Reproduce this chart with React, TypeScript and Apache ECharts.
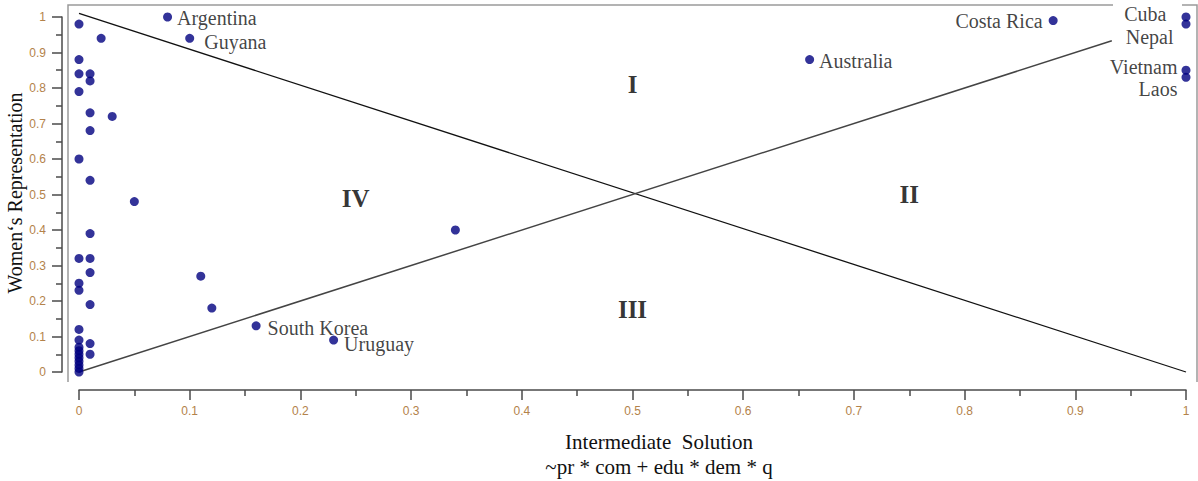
import React, { useEffect, useRef } from "react";
import * as echarts from "echarts";

// Unlabelled cases
const plainX = [
  0, 0, 0, 0, 0, 0, 0, 0, 0, 0, 0, 0, 0, 0, 0, 0, 0, 0,
  0.01, 0.01, 0.01, 0.01, 0.01, 0.01, 0.01, 0.01, 0.01, 0.01, 0.01,
  0.02, 0.03, 0.05, 0.11, 0.12, 0.34,
];
const plainY = [
  0.98, 0.88, 0.84, 0.79, 0.6, 0.32, 0.25, 0.23, 0.12, 0.09, 0.07, 0.06, 0.05, 0.04, 0.03, 0.02, 0.01, 0,
  0.84, 0.82, 0.73, 0.68, 0.54, 0.39, 0.32, 0.28, 0.19, 0.08, 0.05,
  0.94, 0.72, 0.48, 0.27, 0.18, 0.4,
];

// Labelled cases
const countries = ["Argentina", "Guyana", "South Korea", "Uruguay", "Australia", "Costa Rica", "Cuba", "Nepal", "Vietnam", "Laos"];
const countryX = [0.08, 0.1, 0.16, 0.23, 0.66, 0.88, 1, 1, 1, 1];
const countryY = [1.0, 0.94, 0.13, 0.09, 0.88, 0.99, 1.0, 0.98, 0.85, 0.83];

// Quadrant markers
const quadrantNames = ["I", "II", "III", "IV"];
const quadrantX = [0.5, 0.75, 0.5, 0.25];
const quadrantY = [0.81, 0.5, 0.175, 0.49];

// Reference lines (visible parts)
const diagonalDown = [[0, 1.01], [1, 0]];
const diagonalUp = [[0, 0], [0.933, 0.933]];

const xTitle1 = "Intermediate  Solution";
const xTitle2 = "~pr * com + edu * dem * q";
const yTitle = "Women\u2018s Representation";

const SERIF = "'Liberation Serif', 'Times New Roman', serif";
const SANS = "'Liberation Sans', Arial, sans-serif";
const TICK_COLOR = "#b3824a";

// label placement styles per country
const labelStyle: Record<string, any> = {
  Argentina: { position: "right", distance: 5, offset: [0, 1] },
  Guyana: { position: "right", distance: 10, offset: [0, 4] },
  "South Korea": { position: "right", distance: 7, offset: [0, 2] },
  Uruguay: { position: "right", distance: 6, offset: [0, 4] },
  Australia: { position: "right", distance: 5, offset: [0, 1] },
  "Costa Rica": { position: "left", distance: 6, offset: [0, 0] },
  Cuba: { position: "left", distance: 15, offset: [0, -3] },
  Nepal: { position: "left", distance: 8, offset: [0, 13] },
  Vietnam: { position: "left", distance: 4, offset: [0, -3] },
  Laos: { position: "left", distance: 4, offset: [0, 12] },
};

const fmt = (v: number) => String(Math.round(v * 10) / 10);

export default function App() {
  const ref = useRef<HTMLDivElement>(null);
  useEffect(() => {
    if (!ref.current) return;
    const chart = echarts.init(ref.current, null, { renderer: "svg" });

    const axisCommon = {
      type: "value",
      min: 0,
      max: 1,
      interval: 0.1,
      splitLine: { show: false },
      axisLine: { show: true, onZero: false, lineStyle: { color: "#4a4a4a", width: 1.5 } },
      axisTick: { show: true, length: 10, lineStyle: { color: "#4a4a4a", width: 1.5 } },
      minorTick: { show: true, splitNumber: 2, length: 6, lineStyle: { color: "#4a4a4a", width: 1.5 } },
      axisLabel: { color: TICK_COLOR, fontSize: 12, fontFamily: SANS, formatter: fmt, margin: 15 },
    };

    const plainData = plainX.map((x, i) => [x, plainY[i]]);
    const countryData = countries.map((n, i) => ({
      name: n,
      value: [countryX[i], countryY[i]],
      label: {
        show: true,
        formatter: n,
        color: "#111",
        fontSize: 20,
        fontFamily: SERIF,
        ...labelStyle[n],
      },
    }));
    const quadData = quadrantNames.map((n, i) => ({
      name: n,
      value: [quadrantX[i], quadrantY[i]],
    }));

    chart.setOption({
      animation: false,
      backgroundColor: "#fff",
      grid: { left: 79, top: 17, width: 1107, height: 355, containLabel: false },
      xAxis: { ...axisCommon, offset: 18 },
      yAxis: { ...axisCommon, offset: 17, axisLabel: { ...axisCommon.axisLabel, margin: 16 } },
      graphic: [
        {
          type: "polyline",
          z: 0,
          shape: { points: [[68, 382], [68, 5], [1113, 5]] },
          style: { stroke: "#9a9a9a", lineWidth: 1.5, fill: null },
        },
        {
          type: "polyline",
          z: 0,
          shape: { points: [[1182, 5], [1197, 5], [1197, 382]] },
          style: { stroke: "#9a9a9a", lineWidth: 1.5, fill: null },
        },
        {
          type: "text",
          x: 659,
          y: 442,
          style: { text: xTitle1, font: `21px ${SERIF}`, fill: "#111", align: "center", verticalAlign: "middle" },
        },
        {
          type: "text",
          x: 659,
          y: 467,
          style: { text: xTitle2, font: `21px ${SERIF}`, fill: "#111", align: "center", verticalAlign: "middle" },
        },
        {
          type: "text",
          x: 15,
          y: 193,
          rotation: Math.PI / 2,
          style: { text: yTitle, font: `20px ${SERIF}`, fill: "#111", align: "center", verticalAlign: "middle" },
        },
      ],
      series: [
        {
          type: "line",
          z: 1,
          clip: false,
          data: diagonalDown,
          symbol: "none",
          lineStyle: { color: "#111", width: 1.3 },
        },
        {
          type: "line",
          z: 1,
          clip: false,
          data: diagonalUp,
          symbol: "none",
          lineStyle: { color: "#444", width: 1.5 },
        },
        {
          type: "scatter",
          z: 3,
          clip: false,
          symbolSize: 9,
          itemStyle: { color: "#000080" },
          data: plainData,
        },
        {
          type: "scatter",
          z: 4,
          clip: false,
          symbolSize: 9,
          itemStyle: { color: "#000080" },
          data: countryData,
        },
        {
          type: "scatter",
          z: 4,
          clip: false,
          symbolSize: 0,
          silent: true,
          data: quadData,
          label: {
            show: true,
            position: "inside",
            formatter: "{b}",
            color: "#000",
            fontSize: 25,
            fontWeight: "bold",
            fontFamily: SERIF,
          },
        },
      ],
    });
    return () => chart.dispose();
  }, []);

  return (
    <div
      ref={ref}
      style={{ position: "fixed", left: 0, top: 0, width: 1198, height: 481, background: "#fff" }}
    />
  );
}
